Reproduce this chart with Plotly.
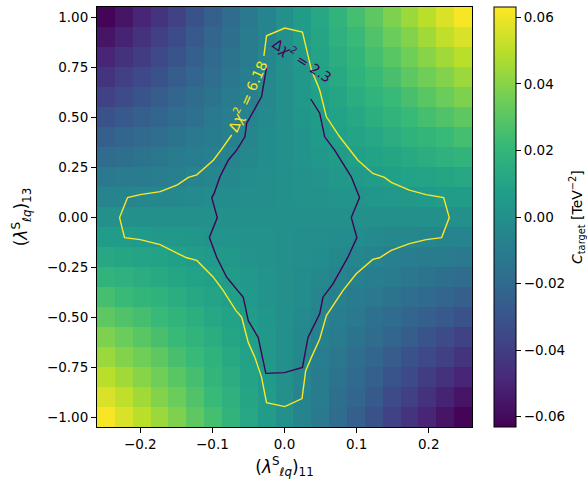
import numpy as np
import plotly.graph_objects as go

# ---- grid (cell edges) ----
x_edges = np.linspace(-0.26, 0.26, 22)
y_edges = np.linspace(-1.05, 1.05, 22)

# ---- C_target values, in units of 1e-3 TeV^-2 ----
# rows from y = -1.0 (bottom) to y = 1.0 (top); columns from x = -0.25 to 0.25
c_milli = [
    [62, 56, 50, 44, 38, 31, 25, 19, 12, 6, 0, -6, -12, -19, -25, -31, -38, -44, -50, -56, -62],
    [56, 51, 45, 39, 34, 28, 22, 17, 11, 6, 0, -6, -11, -17, -22, -28, -34, -39, -45, -51, -56],
    [50, 45, 40, 35, 30, 25, 20, 15, 10, 5, 0, -5, -10, -15, -20, -25, -30, -35, -40, -45, -50],
    [44, 39, 35, 31, 26, 22, 18, 13, 9, 4, 0, -4, -9, -13, -18, -22, -26, -31, -35, -39, -44],
    [38, 34, 30, 26, 22, 19, 15, 11, 8, 4, 0, -4, -8, -11, -15, -19, -22, -26, -30, -34, -38],
    [31, 28, 25, 22, 19, 16, 12, 9, 6, 3, 0, -3, -6, -9, -12, -16, -19, -22, -25, -28, -31],
    [25, 22, 20, 18, 15, 12, 10, 8, 5, 2, 0, -2, -5, -8, -10, -12, -15, -18, -20, -22, -25],
    [19, 17, 15, 13, 11, 9, 8, 6, 4, 2, 0, -2, -4, -6, -8, -9, -11, -13, -15, -17, -19],
    [12, 11, 10, 9, 8, 6, 5, 4, 2, 1, 0, -1, -2, -4, -5, -6, -8, -9, -10, -11, -12],
    [6, 6, 5, 4, 4, 3, 2, 2, 1, 1, 0, -1, -1, -2, -2, -3, -4, -4, -5, -6, -6],
    [0, 0, 0, 0, 0, 0, 0, 0, 0, 0, 0, 0, 0, 0, 0, 0, 0, 0, 0, 0, 0],
    [-6, -6, -5, -4, -4, -3, -2, -2, -1, -1, 0, 1, 1, 2, 2, 3, 4, 4, 5, 6, 6],
    [-12, -11, -10, -9, -8, -6, -5, -4, -2, -1, 0, 1, 2, 4, 5, 6, 8, 9, 10, 11, 12],
    [-19, -17, -15, -13, -11, -9, -8, -6, -4, -2, 0, 2, 4, 6, 8, 9, 11, 13, 15, 17, 19],
    [-25, -22, -20, -18, -15, -12, -10, -8, -5, -2, 0, 2, 5, 8, 10, 12, 15, 18, 20, 22, 25],
    [-31, -28, -25, -22, -19, -16, -12, -9, -6, -3, 0, 3, 6, 9, 12, 16, 19, 22, 25, 28, 31],
    [-38, -34, -30, -26, -22, -19, -15, -11, -8, -4, 0, 4, 8, 11, 15, 19, 22, 26, 30, 34, 38],
    [-44, -39, -35, -31, -26, -22, -18, -13, -9, -4, 0, 4, 9, 13, 18, 22, 26, 31, 35, 39, 44],
    [-50, -45, -40, -35, -30, -25, -20, -15, -10, -5, 0, 5, 10, 15, 20, 25, 30, 35, 40, 45, 50],
    [-56, -51, -45, -39, -34, -28, -22, -17, -11, -6, 0, 6, 11, 17, 22, 28, 34, 39, 45, 51, 56],
    [-62, -56, -50, -44, -38, -31, -25, -19, -12, -6, 0, 6, 12, 19, 25, 31, 38, 44, 50, 56, 62],
]
c_target = np.array(c_milli) * 1e-3

# ---- contour Δχ² = 6.18 (outer, yellow) ----
outer_x = [-0.0286, -0.0249, 0.0004, 0.0249, 0.0373, 0.0488, 0.0581, 0.0765, 0.1018, 0.1225,
           0.1387, 0.1480, 0.1732, 0.1963, 0.2207, 0.2285, 0.2179, 0.1963, 0.1732, 0.1480,
           0.1318, 0.1225, 0.0995, 0.0810, 0.0581, 0.0488, 0.0373, 0.0294, 0.0243, 0.0004,
           -0.0249, -0.0318, -0.0411, -0.0503, -0.0594, -0.0673, -0.0849, -0.0987, -0.1217, -0.1355,
           -0.1471, -0.1724, -0.2001, -0.2218, -0.2287, -0.2176, -0.2001, -0.1724, -0.1485, -0.1333,
           -0.1217, -0.0987, -0.0881, -0.0733]
outer_y = [0.806, 0.906, 0.945, 0.925, 0.736, 0.635, 0.501, 0.401, 0.284, 0.218,
           0.198, 0.173, 0.134, 0.112, 0.097, -0.003, -0.103, -0.113, -0.133, -0.167,
           -0.204, -0.212, -0.284, -0.368, -0.493, -0.610, -0.702, -0.769, -0.908, -0.948,
           -0.928, -0.802, -0.702, -0.627, -0.501, -0.468, -0.368, -0.301, -0.217, -0.204,
           -0.184, -0.138, -0.113, -0.103, -0.003, 0.097, 0.112, 0.127, 0.161, 0.198,
           0.211, 0.284, 0.334, 0.410]

# ---- contour Δχ² = 2.3 (inner, dark) ----
inner_x = [-0.0249, -0.0318, -0.0525, -0.0549, -0.0664, -0.0780, -0.0895, -0.0977, -0.1009, -0.0932,
           -0.1042, -0.0940, -0.0802, -0.0572, -0.0503, -0.0365, -0.0259, 0.0000, 0.0249, 0.0326,
           0.0488, 0.0534, 0.0672, 0.0879, 0.1004, 0.0926, 0.1041, 0.0926, 0.0695, 0.0557,
           0.0488, 0.0364]
inner_y = [0.747, 0.602, 0.468, 0.401, 0.334, 0.284, 0.201, 0.117, 0.097, -0.003,
           -0.103, -0.201, -0.301, -0.401, -0.518, -0.602, -0.782, -0.778, -0.752, -0.602,
           -0.484, -0.401, -0.334, -0.201, -0.103, -0.003, 0.097, 0.201, 0.334, 0.401,
           0.519, 0.590]

FONT = "DejaVu Sans"
DARK = "#440154"
YELLOW = "#fde725"
TICK = 13.5

fig = go.Figure()
fig.add_trace(go.Heatmap(
    x=x_edges, y=y_edges, z=c_target,
    colorscale="Viridis", zmin=-0.0631, zmax=0.0631,
    colorbar=dict(
        x=1.0587, xanchor="left", xpad=0, y=0.5, yanchor="middle", len=1, lenmode="fraction",
        thickness=22, ypad=0,
        outlinecolor="black", outlinewidth=1,
        ticks="outside", ticklen=5, tickcolor="black",
        tick0=0, dtick=0.02, tickformat=".2f",
        tickfont=dict(family=FONT, size=TICK, color="black"),
    ),
    hoverinfo="skip",
))
fig.add_trace(go.Scatter(x=outer_x, y=outer_y, mode="lines",
                         line=dict(color=YELLOW, width=1.4), showlegend=False, hoverinfo="skip"))
fig.add_trace(go.Scatter(x=inner_x, y=inner_y, mode="lines",
                         line=dict(color=DARK, width=1.4), showlegend=False, hoverinfo="skip"))

fig.add_annotation(x=-0.052, y=0.605, text="Δ<i>χ</i><sup>2</sup> = 6.18", showarrow=False,
                   textangle=-66, font=dict(family=FONT, size=14, color=YELLOW))
fig.add_annotation(x=0.0253, y=0.786, text="Δ<i>χ</i><sup>2</sup> = 2.3", showarrow=False,
                   textangle=33, font=dict(family=FONT, size=14, color=DARK))
# colorbar title
fig.add_annotation(xref="paper", yref="paper", x=1.28, y=0.5, xanchor="center", yanchor="middle",
                   text="<i>C</i><sub>target</sub> [TeV<sup>−2</sup>]", showarrow=False,
                   textangle=-90, font=dict(family=FONT, size=14, color="black"))

axis_common = dict(showline=True, linecolor="black", linewidth=1, mirror=True,
                   ticks="outside", ticklen=5, tickcolor="black", showgrid=False, zeroline=False,
                   tickfont=dict(family=FONT, size=TICK, color="black"))
fig.update_xaxes(range=[-0.26, 0.26], tickvals=[-0.2, -0.1, 0.0, 0.1, 0.2], tickformat=".1f",
                 title=dict(text="(<i>λ</i><sup>S</sup><sub><i>ℓq</i></sub>)<sub>11</sub>",
                            font=dict(family=FONT, size=17, color="black"), standoff=9),
                 **axis_common)
fig.update_yaxes(range=[-1.05, 1.05], tickvals=[-1, -0.75, -0.5, -0.25, 0, 0.25, 0.5, 0.75, 1.0],
                 tickformat=".2f",
                 title=dict(text="(<i>λ</i><sup>S</sup><sub><i>ℓq</i></sub>)<sub>13</sub>",
                            font=dict(family=FONT, size=17, color="black"), standoff=14),
                 **axis_common)
fig.update_layout(width=587, height=481,
                  margin=dict(l=97, r=115, t=7, b=54, autoexpand=False),
                  plot_bgcolor="white", paper_bgcolor="white", showlegend=False,
                  font=dict(family=FONT, color="black"))
fig.write_html("out.html", config={"displayModeBar": False},
               post_script="document.body.style.margin='0px';document.body.style.overflow='hidden';")
